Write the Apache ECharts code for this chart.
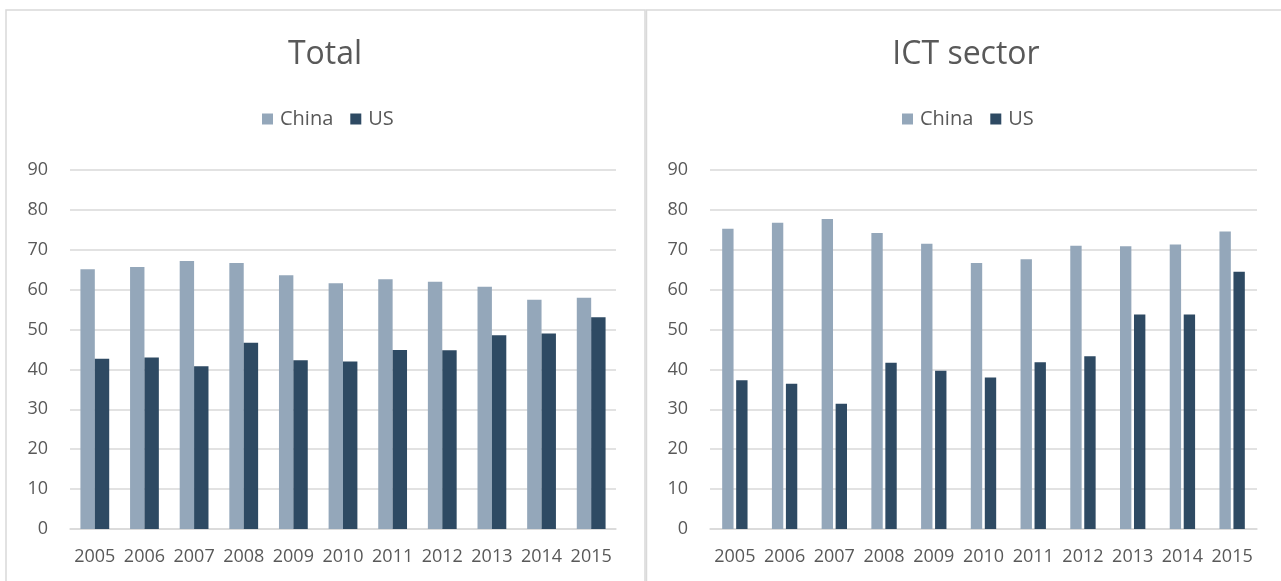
<!DOCTYPE html>
<html>
<head>
<meta charset="utf-8">
<script src="https://cdn.jsdelivr.net/npm/echarts@6/dist/echarts.min.js"></script>
<style>
html,body{margin:0;padding:0;background:#fff;}
#c{width:1281px;height:581px;}
</style>
</head>
<body>
<div id="c"></div>
<script>
const years = ['2005','2006','2007','2008','2009','2010','2011','2012','2013','2014','2015'];
const totalChina = [65.1, 65.7, 67.2, 66.7, 63.6, 61.6, 62.6, 62.0, 60.7, 57.5, 58.0];
const totalUS    = [42.7, 43.0, 40.8, 46.7, 42.3, 42.0, 44.9, 44.8, 48.6, 49.0, 53.1];
const ictChina   = [75.3, 76.8, 77.7, 74.2, 71.5, 66.7, 67.6, 71.0, 70.9, 71.3, 74.6];
const ictUS      = [37.3, 36.4, 31.4, 41.7, 39.7, 38.0, 41.8, 43.3, 53.8, 53.8, 64.5];
const yTicks = [0, 10, 20, 30, 40, 50, 60, 70, 80, 90];

const FONT = 'Open Sans';
const TXT = '#595959';
const GRID = '#d9d9d9';
const C_CHINA = '#94A7BA';
const C_US = '#2E4A63';

const chart = echarts.init(document.getElementById('c'));

function xAx(gi) {
  return {
    type: 'category', gridIndex: gi, data: years,
    axisLine: {lineStyle: {color: GRID, width: 1.5}},
    axisTick: {show: false},
    axisLabel: {color: TXT, fontFamily: FONT, fontSize: 18, margin: 19, interval: 0, hideOverlap: false}
  };
}
function yAx(gi) {
  return {
    type: 'value', gridIndex: gi, min: yTicks[0], max: yTicks[yTicks.length - 1], interval: 10,
    axisLine: {show: false}, axisTick: {show: false},
    axisLabel: {color: TXT, fontFamily: FONT, fontSize: 18, margin: 22},
    splitLine: {lineStyle: {color: GRID, width: 1.5}}
  };
}
function legend(left) {
  return {
    left: left, top: 109, padding: 0, itemWidth: 11, itemHeight: 11, itemGap: 17,
    icon: 'rect',
    textStyle: {color: TXT, fontFamily: FONT, fontSize: 20, padding: [0, 0, 0, 2]},
    data: ['China', 'US']
  };
}

chart.setOption({
  animation: false,
  backgroundColor: '#fff',
  graphic: [
    {type: 'rect', shape: {x: 6, y: 10, width: 639, height: 600}, style: {fill: 'none', stroke: GRID, lineWidth: 1.5}},
    {type: 'rect', shape: {x: 646.5, y: 10, width: 660, height: 600}, style: {fill: 'none', stroke: GRID, lineWidth: 1.5}}
  ],
  title: [
    {text: 'Total', left: 320, textAlign: 'center', top: 34,
     textStyle: {color: TXT, fontFamily: FONT, fontSize: 32, fontWeight: 'normal'}},
    {text: 'ICT sector', left: 961, textAlign: 'center', top: 34,
     textStyle: {color: TXT, fontFamily: FONT, fontSize: 32, fontWeight: 'normal'}}
  ],
  legend: [legend(262), legend(902)],
  grid: [
    {left: 70, right: 665, top: 170, bottom: 52},
    {left: 710, right: 24, top: 170, bottom: 52}
  ],
  xAxis: [xAx(0), xAx(1)],
  yAxis: [yAx(0), yAx(1)],
  series: [
    {name: 'China', type: 'bar', xAxisIndex: 0, yAxisIndex: 0, data: totalChina,
     itemStyle: {color: C_CHINA}, barGap: '0%', barCategoryGap: '42%'},
    {name: 'US', type: 'bar', xAxisIndex: 0, yAxisIndex: 0, data: totalUS,
     itemStyle: {color: C_US}, barGap: '0%', barCategoryGap: '42%'},
    {name: 'China', type: 'bar', xAxisIndex: 1, yAxisIndex: 1, data: ictChina,
     itemStyle: {color: C_CHINA}, barGap: '23%', barCategoryGap: '49%'},
    {name: 'US', type: 'bar', xAxisIndex: 1, yAxisIndex: 1, data: ictUS,
     itemStyle: {color: C_US}, barGap: '23%', barCategoryGap: '49%'}
  ]
});
</script>
</body>
</html>
